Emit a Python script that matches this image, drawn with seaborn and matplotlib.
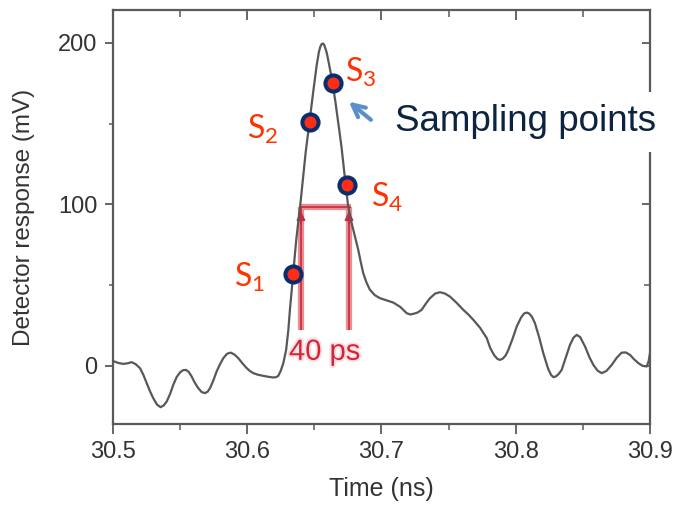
import matplotlib.pyplot as plt
import matplotlib.patheffects as pe
from matplotlib.ticker import MultipleLocator, FormatStrFormatter
import seaborn as sns
import pandas as pd

# detector trace
time_ns = [30.5000, 30.5040, 30.5077, 30.5110, 30.5139, 30.5170, 30.5201, 30.5226, 30.5251, 30.5276,
           30.5300, 30.5328, 30.5355, 30.5378, 30.5400, 30.5425, 30.5449, 30.5474, 30.5499, 30.5521,
           30.5544, 30.5565, 30.5586, 30.5610, 30.5635, 30.5660, 30.5685, 30.5705, 30.5723, 30.5748,
           30.5772, 30.5797, 30.5822, 30.5850, 30.5877, 30.5905, 30.5933, 30.5965, 30.5996, 30.6020,
           30.6045, 30.6080, 30.6120, 30.6160, 30.6194, 30.6215, 30.6231, 30.6250, 30.6269, 30.6290,
           30.6306, 30.6318, 30.6341, 30.6365, 30.6398, 30.6435, 30.6465, 30.6492, 30.6517, 30.6534,
           30.6545, 30.6555, 30.6566, 30.6575, 30.6592, 30.6609, 30.6625, 30.6641, 30.6656, 30.6671,
           30.6687, 30.6703, 30.6728, 30.6750, 30.6770, 30.6790, 30.6808, 30.6827, 30.6845, 30.6864,
           30.6889, 30.6914, 30.6950, 30.6989, 30.7040, 30.7088, 30.7140, 30.7188, 30.7215, 30.7237,
           30.7268, 30.7299, 30.7330, 30.7361, 30.7400, 30.7436, 30.7472, 30.7510, 30.7560, 30.7609,
           30.7647, 30.7684, 30.7735, 30.7784, 30.7810, 30.7840, 30.7865, 30.7883, 30.7905, 30.7925,
           30.7945, 30.7975, 30.8007, 30.8040, 30.8062, 30.8082, 30.8100, 30.8120, 30.8143, 30.8175,
           30.8205, 30.8240, 30.8262, 30.8280, 30.8300, 30.8320, 30.8342, 30.8372, 30.8404, 30.8430,
           30.8454, 30.8480, 30.8516, 30.8548, 30.8578, 30.8610, 30.8640, 30.8675, 30.8715, 30.8752,
           30.8789, 30.8820, 30.8851, 30.8882, 30.8913, 30.8945, 30.8975, 30.8990, 30.9000]
response_mv = [3.0, 1.8, 1.2, 1.6, 2.3, 1.0, -1.4, -5.5, -10.7, -15.8,
               -20.0, -24.0, -25.6, -24.5, -22.1, -17.5, -11.8, -7.0, -4.1, -2.7,
               -2.5, -3.8, -6.6, -10.5, -13.8, -16.2, -16.9, -16.0, -13.8, -9.0,
               -3.5, 1.0, 4.8, 7.5, 8.2, 7.0, 4.8, 1.5, -1.4, -3.2,
               -4.5, -5.5, -6.2, -6.8, -7.2, -7.0, -6.2, -3.0, 1.7, 10.0,
               22.0, 34.7, 56.0, 78.0, 102.0, 132.0, 152.0, 170.0, 186.0, 194.5,
               197.8, 199.4, 199.6, 198.5, 194.0, 187.0, 180.0, 172.0, 164.0, 155.0,
               145.0, 135.0, 116.0, 100.0, 91.0, 84.2, 78.0, 71.8, 64.5, 57.4,
               51.5, 47.1, 43.8, 41.9, 40.5, 39.2, 36.5, 32.6, 31.8, 32.2,
               33.0, 34.7, 38.5, 41.9, 44.8, 45.6, 44.8, 42.9, 39.0, 34.7,
               31.8, 28.5, 23.5, 17.2, 11.0, 6.5, 4.2, 3.7, 4.6, 6.5,
               9.9, 16.5, 24.3, 30.0, 32.4, 33.0, 32.4, 30.5, 26.4, 17.5,
               7.9, -1.5, -5.5, -7.0, -6.5, -5.0, -2.5, 5.0, 13.0, 17.5,
               19.2, 17.8, 12.0, 5.5, 0.6, -3.0, -4.5, -3.2, 0.6, 5.0,
               8.2, 8.3, 6.8, 4.0, 1.7, 0.0, -0.4, 3.0, 7.9]

# sampling points S1..S4
sample_names = ["1", "2", "3", "4"]
sample_time = [30.6341, 30.6467, 30.6641, 30.6745]
sample_mv = [57.0, 151.0, 175.0, 112.0]

# 40 ps width marker
width_start = 30.6400
width_end = 30.6758
width_level = 98.5
width_base = 22.0

x_ticks = [30.5, 30.6, 30.7, 30.8, 30.9]
y_ticks = [0, 100, 200]

sns.set_style("ticks")
plt.rcParams['font.family'] = ['Liberation Sans', 'DejaVu Sans']

df = pd.DataFrame({"time": time_ns, "resp": response_mv})
pts = pd.DataFrame({"time": sample_time, "resp": sample_mv})

fig = plt.figure(figsize=(6.83, 5.12), dpi=100)
ax = fig.add_axes([0.1654, 0.1719, 0.7863, 0.8086])

sns.lineplot(data=df, x="time", y="resp", color="#585858", lw=1.6, sort=False, ax=ax, zorder=3,
             solid_joinstyle="round")

# red 40 ps bracket
red_soft = "#e98d95"
red_dark = "#c92a3c"
for lw, c in [(4.5, red_soft), (1.2, red_dark)]:
    ax.plot([width_start - 0.0007, width_end + 0.0017], [width_level, width_level], color=c, lw=lw,
            solid_capstyle="butt", zorder=2)
    for t in [width_start, width_end]:
        ax.plot([t, t], [width_base, width_level], color=c, lw=lw, solid_capstyle="butt", zorder=2)
for t in [width_start, width_end]:
    ax.annotate("", xy=(t, width_level - 1), xytext=(t, width_level - 12),
                arrowprops=dict(arrowstyle="-|>", color=red_dark, lw=1.2, mutation_scale=13), zorder=2)
ax.text((width_start + width_end) / 2 - 0.0003, 8.7, "40 ps", color="#d42436", fontsize=21,
        ha="center", va="center", zorder=4,
        path_effects=[pe.withStroke(linewidth=3, foreground="#fbe1e4")])

sns.scatterplot(data=pts, x="time", y="resp", s=135, color="#ff2d14", edgecolor="#0a2d6e",
                linewidth=2.9, ax=ax, zorder=5, legend=False)

offsets = [(-43, -4), (-47, -7), (27, 10.5), (40, -12.5)]
for name, t, v, off in zip(sample_names, sample_time, sample_mv, offsets):
    ax.annotate("$\\mathregular{S_{%s}}$" % name, xy=(t, v), xytext=off, textcoords="offset pixels",
                ha="center", va="center", fontsize=23, color="#ff3300", family="Lato")

# arrow + label for the sampling points
ax.annotate("", xy=(30.6741, 164.7), xytext=(30.6937, 151.3),
            arrowprops=dict(arrowstyle="->", color="#5b8fca", lw=3, mutation_scale=22))
ax.text(30.7101, 151.1, "Sampling points", fontsize=26.5, color="#0d2440", ha="left", va="center",
        zorder=10, clip_on=False,
        bbox=dict(boxstyle="square,pad=0.33", facecolor="white", edgecolor="none"))

ax.set_xlim(30.5, 30.9)
ax.set_ylim(-36, 220.4)
ax.set_xticks(x_ticks)
ax.set_yticks(y_ticks)
ax.xaxis.set_major_formatter(FormatStrFormatter("%.1f"))
ax.xaxis.set_minor_locator(MultipleLocator(0.05))
ax.yaxis.set_minor_locator(MultipleLocator(50))

spine_c = "#5a5a5a"
for s in ax.spines.values():
    s.set_visible(True)
    s.set_color(spine_c)
    s.set_linewidth(1.6)

ax.tick_params(axis="x", which="major", direction="out", length=7, width=1.3, color=spine_c,
               labelsize=17, labelcolor="#333333", pad=5)
ax.tick_params(axis="x", which="minor", direction="out", length=4, width=1.1, color=spine_c)
ax.tick_params(axis="y", which="major", direction="out", length=6, width=1.3, color=spine_c,
               labelsize=17, labelcolor="#333333", pad=5)
ax.tick_params(axis="y", which="minor", direction="out", length=3, width=1.1, color=spine_c)

# inward ticks on top and right
secx = ax.secondary_xaxis("top")
secx.set_xticks(x_ticks)
secx.xaxis.set_minor_locator(MultipleLocator(0.05))
secx.tick_params(which="major", direction="in", length=7, width=1.3, color=spine_c, labeltop=False)
secx.tick_params(which="minor", direction="in", length=5, width=1.1, color=spine_c)
secx.spines["top"].set_visible(False)

secy = ax.secondary_yaxis("right")
secy.set_yticks(y_ticks)
secy.yaxis.set_minor_locator(MultipleLocator(50))
secy.tick_params(which="major", direction="in", length=6, width=1.3, color=spine_c, labelright=False)
secy.tick_params(which="minor", direction="in", length=4, width=1.1, color=spine_c)
secy.spines["right"].set_visible(False)

ax.set_xlabel("Time (ns)", fontsize=18, color="#333333", labelpad=10)
ax.set_ylabel("Detector response (mV)", fontsize=17.5, color="#333333", labelpad=17)

fig.savefig("out.png", dpi=100)
